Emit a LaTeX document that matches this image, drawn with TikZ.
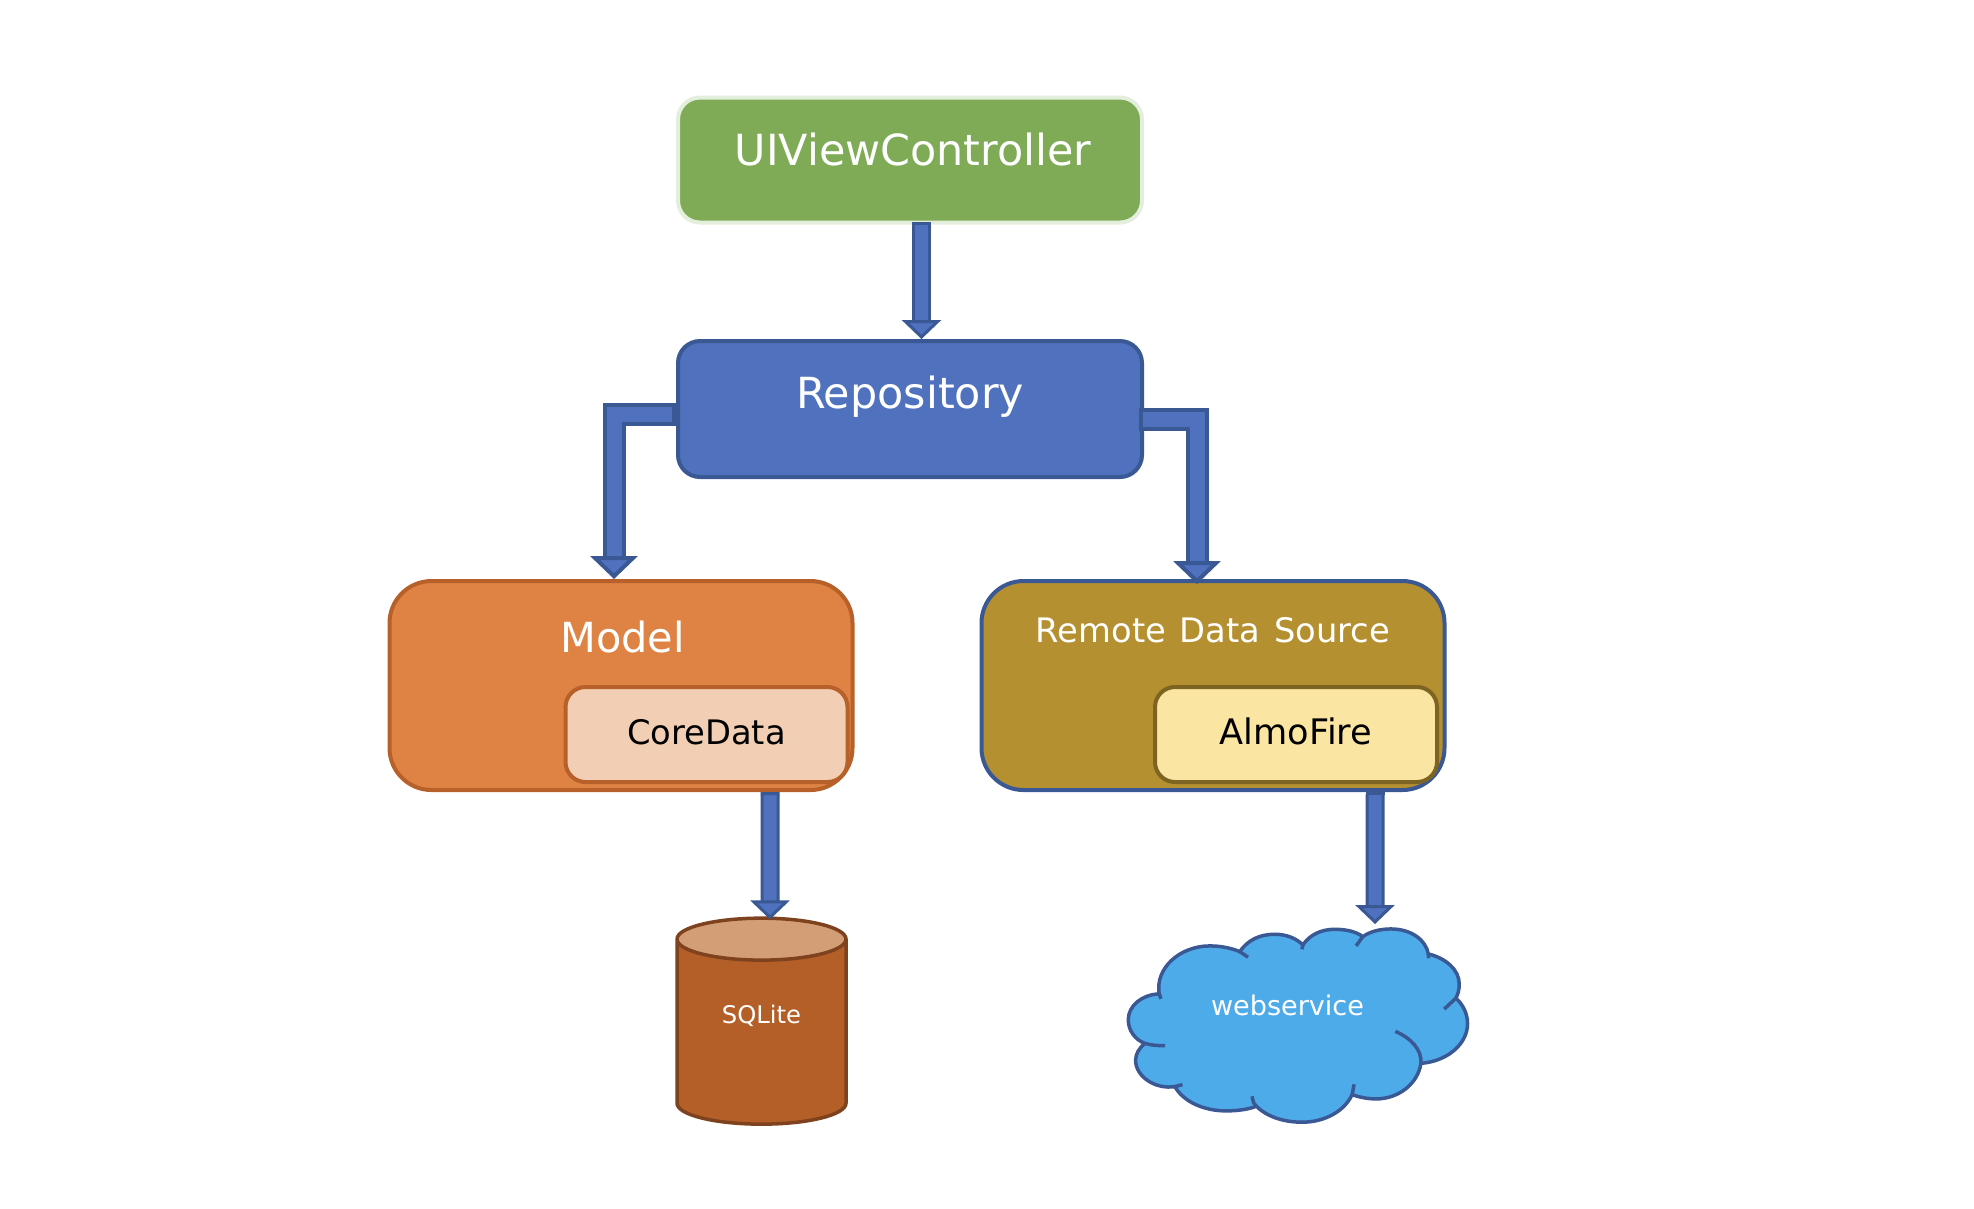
\documentclass[tikz,border=0pt]{standalone}
\usepackage{fontspec}
\setmainfont{DejaVu Sans}
\usetikzlibrary{shapes.geometric, arrows.meta, positioning}
\definecolor{arrowfill}{HTML}{4F71BE}
\definecolor{arrowline}{HTML}{3A5894}
\definecolor{greenfill}{HTML}{7FAB56}
\definecolor{greenline}{HTML}{E3EEDC}
\definecolor{orangefill}{HTML}{DE8344}
\definecolor{orangeline}{HTML}{B7602A}
\definecolor{peachfill}{HTML}{F1CEB4}
\definecolor{goldfill}{HTML}{B59030}
\definecolor{yellowfill}{HTML}{FBE5A2}
\definecolor{yellowline}{HTML}{7E6423}
\definecolor{cylfill}{HTML}{B55F28}
\definecolor{cyltop}{HTML}{D39E76}
\definecolor{cylline}{HTML}{7E431E}
\definecolor{cloudfill}{HTML}{4EABE9}

\begin{document}
\begin{tikzpicture}[node distance=2.5cm]
    \tikzstyle{topbox} = [rectangle, rounded corners=.22cm, minimum width=4.64cm, inner sep=0pt, line width=.04cm, text=white, font=\fontsize{12.2}{14}\selectfont]
    \tikzstyle{bigbox} = [rectangle, rounded corners=.42cm, minimum width=4.63cm, minimum height=2.09cm, inner sep=0pt, line width=.04cm, text=white]
    \tikzstyle{innerbox} = [rectangle, rounded corners=.2cm, minimum width=2.82cm, minimum height=.95cm, inner sep=0pt, line width=.04cm, text=black, text height=.30cm, text depth=.11cm]
    \tikzstyle{arrow} = [line width=.03cm, double=arrowfill, double distance=.13cm, draw=arrowline, {Bar[width=.19cm,line width=.03cm,sep=0pt]}-{Triangle[length=.19cm,width=.39cm,line width=.03cm,fill=arrowfill]}]
    \tikzstyle{elbow} = [line width=.04cm, double=arrowfill, double distance=.15cm, draw=arrowline, {Bar[width=.23cm,line width=.04cm,sep=0pt]}-{Triangle[length=.23cm,width=.47cm,line width=.04cm,fill=arrowfill]}]

    \useasboundingbox (0,0) rectangle (19.74,-12.08);

    \node (uiview) [topbox, draw=greenline, fill=greenfill, minimum height=1.25cm, text height=.32cm, text depth=.22cm] at (9.10,-1.60) {\kern.06cm UIViewController};
    \node (repository) [topbox, draw=arrowline, fill=arrowfill, minimum height=1.36cm, text height=.32cm, text depth=.33cm, below of=uiview, yshift=.01cm] {Repository};
    \node (model) [bigbox, draw=orangeline, fill=orangefill, below of=repository, xshift=-2.89cm, yshift=-.265cm, text height=.32cm, text depth=.98cm, font=\fontsize{11.8}{14}\selectfont] {\kern.03cm Model};
    \node (remote) [bigbox, draw=arrowline, fill=goldfill, below of=repository, xshift=3.03cm, yshift=-.265cm, text height=.27cm, text depth=1.13cm, font=\fontsize{9.6}{11}\selectfont] {Remote\hspace{.03cm} Data\hspace{.03cm} Source};
    \node (coredata) [innerbox, draw=orangeline, fill=peachfill, font=\fontsize{9.6}{11}\selectfont] at ([xshift=.855cm,yshift=-.49cm]model.center) {CoreData};
    \node (almofire) [innerbox, draw=yellowline, fill=yellowfill, font=\fontsize{10}{12}\selectfont] at ([xshift=.83cm,yshift=-.49cm]remote.center) {AlmoFire};
    \node (sqlite) [cylinder, shape border rotate=90, aspect=.53, minimum width=1.69cm, minimum height=2.06cm, inner sep=0pt, draw=cylline, line width=.035cm, cylinder uses custom fill, cylinder body fill=cylfill, cylinder end fill=cyltop, text=white, text height=.15cm, text depth=.33cm, font=\fontsize{6.9}{8}\selectfont, below of=coredata, xshift=.55cm, yshift=-.48cm] {SQLite};

    % cloud, as in the slide
    \begin{scope}[shift={(11,-9)}, x=.003333cm, y=-.003333cm, line width=.035cm, draw=arrowline]
        \draw[fill=cloudfill] (178,282)
            .. controls (165,205) and (240,138) .. (330,138)
            .. controls (365,138) and (395,145) .. (420,155)
            .. controls (445,120) and (480,103) .. (525,103)
            .. controls (560,103) and (590,115) .. (610,135)
            .. controls (630,105) and (665,88) .. (705,88)
            .. controls (740,88) and (770,95) .. (790,110)
            .. controls (815,93) and (845,87) .. (875,87)
            .. controls (935,87) and (980,120) .. (987,162)
            .. controls (1040,175) and (1080,210) .. (1080,252)
            .. controls (1080,268) and (1077,282) .. (1070,295)
            .. controls (1092,315) and (1105,342) .. (1105,372)
            .. controls (1105,432) and (1045,485) .. (965,491)
            .. controls (955,555) and (895,598) .. (830,598)
            .. controls (805,598) and (780,593) .. (758,585)
            .. controls (735,635) and (675,668) .. (608,668)
            .. controls (550,668) and (500,650) .. (470,620)
            .. controls (445,630) and (410,634) .. (380,634)
            .. controls (310,634) and (250,605) .. (225,561)
            .. controls (165,570) and (107,530) .. (107,482)
            .. controls (107,462) and (118,445) .. (135,431)
            .. controls (105,420) and (85,392) .. (85,360)
            .. controls (85,318) and (125,285) .. (178,282) -- cycle;
        \draw (178,282) -- (183,297);
        \draw (420,155) -- (445,172);
        \draw (610,135) -- (607,148);
        \draw (790,110) -- (770,138);
        \draw (987,162) -- (988,175);
        \draw (1070,295) -- (1035,328);
        \draw (888,395) .. controls (935,415) and (968,450) .. (965,491);
        \draw (758,585) -- (764,554);
        \draw (470,620) .. controls (462,612) .. (457,590);
        \draw (225,561) -- (248,555);
        \draw (135,431) .. controls (155,437) and (175,438) .. (196,438);
    \end{scope}
    \node (webservice) [text=white, inner sep=0pt, text height=.2cm, text depth=0pt, font=\fontsize{7.7}{9}\selectfont, below of=almofire, xshift=-.085cm, yshift=-.21cm] {webservice};
    \coordinate (cloudtop) at (13.75,-9.24);

    \draw [arrow] ([xshift=.115cm,yshift=.03cm]uiview.south) -- ([xshift=.115cm]repository.north);
    \draw [elbow] ([yshift=-.055cm]repository.west) -| ([xshift=-.07cm]model.north);
    \draw [elbow] ([yshift=-.105cm,xshift=-.05cm]repository.east) -| ([xshift=-.16cm,yshift=-.05cm]remote.north);
    \draw [arrow] ([xshift=1.49cm]model.south) -- ([xshift=.085cm,yshift=-.03cm]sqlite.north);
    \draw [arrow] ([xshift=1.62cm]remote.south) -- (cloudtop);
\end{tikzpicture}
\end{document}
